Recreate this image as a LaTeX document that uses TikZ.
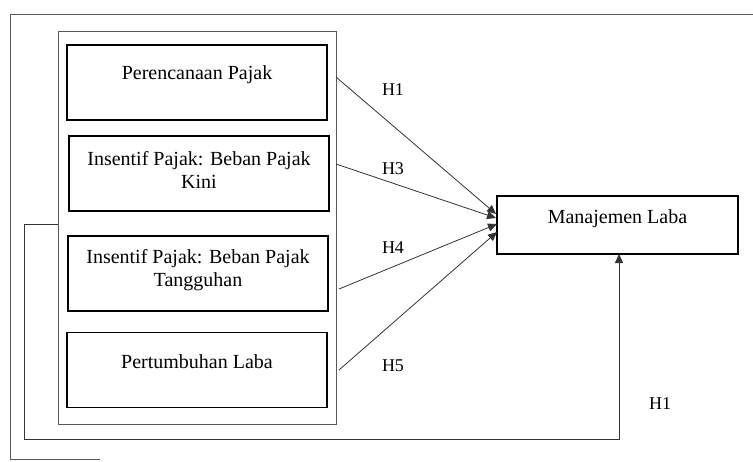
\documentclass[tikz,border=0pt]{standalone}
\usepackage{fontspec}
\setmainfont{Liberation Serif}
\usetikzlibrary{arrows.meta}
\begin{document}
\begin{tikzpicture}[x=1pt,y=-1pt,
  varbox/.style={draw=black,line width=1.3pt,minimum width=260pt,minimum height=75pt,inner sep=0pt},
  lbl/.style={font=\fontsize{20}{23}\selectfont,align=center,inner sep=0pt},
  hyp/.style={font=\fontsize{18}{20}\selectfont,inner sep=0pt},
  conn/.style={draw=black!80,line width=0.8pt,-{Triangle[length=9pt,width=8pt]}},
  frame/.style={draw=black!65,line width=0.9pt}]
\useasboundingbox (0,0) rectangle (753,461);
% outer frame
\draw[frame] (753,14) -- (10,14) -- (10,459) -- (100,459);
% group rectangle
\node[draw=black!65,line width=0.9pt,minimum width=278pt,minimum height=393pt,inner sep=0pt] (g) at (197,227.5) {};
% variable boxes
\node[varbox] (b1) at (197,82.5) {};
\node[lbl] (t1) at (197,75) {Perencanaan Pajak};
\node[varbox] (b2) at (199,173.5) {};
\node[lbl] (t2) at (199,170) {Insentif Pajak: Beban Pajak\\Kini};
\node[varbox] (b3) at (198,273.5) {};
\node[lbl] (t3) at (198,270) {Insentif Pajak: Beban Pajak\\Tangguhan};
\node[varbox] (b4) at (197,370) {};
\node[lbl] (t4) at (197,362) {Pertumbuhan Laba};
% dependent
\node[draw=black,line width=1.3pt,minimum width=241pt,minimum height=58pt,inner sep=0pt] (m) at (617.5,225) {};
\node[lbl] (tm) at (617.5,219) {Manajemen Laba};
% connectors
\coordinate (s1) at (336,77);
\coordinate (s2) at (336,164);
\coordinate (s3) at (339,289);
\coordinate (s4) at (339,370);
\coordinate (e1) at (496,214);
\coordinate (e2) at (496,218);
\coordinate (e3) at (497,224);
\coordinate (e4) at (497,232);
\draw[conn] (s1) -- (e1);
\draw[conn] (s2) -- (e2);
\draw[conn] (s3) -- (e3);
\draw[conn] (s4) -- (e4);
% feedback path
\coordinate (f0) at (58,224);
\coordinate (f1) at (24,224);
\coordinate (f2) at (24,439);
\coordinate (f3) at (619,439);
\coordinate (f4) at (619,254);
\draw[conn] (f0) -- (f1) -- (f2) -- (f3) -- (f4);
% labels
\node[hyp] (h1) at (393,90) {H1};
\node[hyp] (h3) at (393,169) {H3};
\node[hyp] (h4) at (393,248) {H4};
\node[hyp] (h5) at (393,366) {H5};
\node[hyp] (h1b) at (660,404) {H1};
\end{tikzpicture}
\end{document}
